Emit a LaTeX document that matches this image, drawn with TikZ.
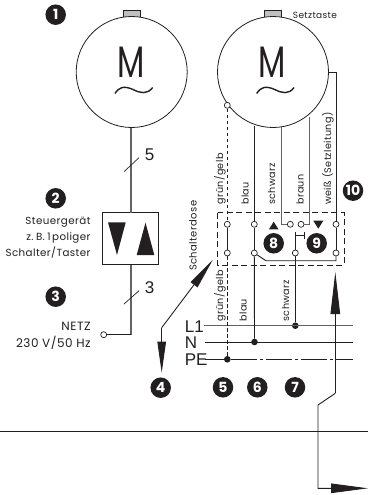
\documentclass[tikz,border=0pt]{standalone}
\usepackage{graphicx}
\usepackage{fontspec}
\setmainfont[LetterSpace=4]{Poppins}
\newfontfamily\badgef{Poppins}
\newfontfamily\arialf{Liberation Sans}
\usetikzlibrary{arrows.meta}
\definecolor{ink}{HTML}{231F20}
\tikzset{
  wire/.style={draw=ink,line width=0.9pt},
  grey wire/.style={draw=ink!70,line width=1.1pt},
  thin wire/.style={draw=ink,line width=0.7pt},
  motor/.style={circle,draw=ink,line width=0.8pt,minimum size=111pt,inner sep=0pt,fill=white},
  knob/.style={draw=ink,line width=0.7pt,fill=black!25,minimum width=17pt,minimum height=6.5pt,inner sep=0pt},
  badge/.style={circle,fill=ink,text=white,minimum size=20.5pt,inner sep=0pt,font=\badgef\fontsize{14}{14}\selectfont\bfseries},
  term/.style={circle,draw=ink,line width=0.7pt,fill=white,minimum size=6pt,inner sep=0pt},
  dotn/.style={circle,fill=ink,minimum size=6.6pt,inner sep=0pt},
  lab/.style={font=\fontsize{10.3}{12}\selectfont,text=ink,inner sep=0pt},
  netzlab/.style={font=\fontsize{12}{12}\selectfont,text=ink,inner sep=0pt},
  vlab/.style={font=\fontsize{9.6}{12}\selectfont,text=ink,inner sep=0pt,rotate=90,anchor=west},
  big/.style={font=\arialf\fontsize{17}{17}\selectfont,text=ink,inner sep=0pt},
  tri/.style={fill=ink,draw=none},
  motorm/.style={font=\badgef\fontsize{44}{44}\selectfont,text=ink,inner sep=0pt},
  sine/.style={draw=ink,line width=1.4pt},
  bigarrow/.style={-{Triangle[length=42pt,width=9.5pt]},draw=ink,line width=0.9pt},
  midarrow/.style={-{Triangle[length=31pt,width=8.5pt]},draw=ink,line width=0.9pt},
  endarrow/.style={-{Triangle[length=37pt,width=9.5pt]},draw=ink,line width=0.9pt},
}
\begin{document}
\begin{tikzpicture}[x=1pt,y=-1pt]
\useasboundingbox (0,0) rectangle (368,495);
% left motor
\node[knob] (k1) at (131.7,13.7) {};
\node[motor] (m1) at (131.7,72) {};
\node[motorm] (m1t) at (131,62.3) {\scalebox{0.72}[1]{M}};
\draw[sine] (115,93.5) .. controls (119,87) and (124,85.5) .. (133,89.5) .. controls (140,93) and (147,95) .. (152.7,87.5);
\node[badge] (b1) at (55.7,14.7) {1};
\node[draw=ink,line width=0.8pt,minimum width=56pt,minimum height=52pt,inner sep=0pt] (ctl) at (130,238.7) {};
\coordinate (j1) at (131,334.7);
\node[term] (netz) at (103.7,334.7) {};
\draw[grey wire] (131,127.5) -- (131,212.7);
\draw[grey wire] (131,264.7) -- (j1);
\draw[wire] (j1) -- (netz);
\draw[thin wire] (124,171.7) -- (139,157.7);
\draw[thin wire] (124,304) -- (139,290.7);
\node[big] (n5) at (149.5,154.5) {5};
\node[big] (n3) at (149.5,287.5) {3};
\fill[tri] (108,222.3) -- (125.7,222.3) -- (117,255) -- cycle;
\fill[tri] (136.7,255) -- (154.3,255) -- (145.5,222.7) -- cycle;
\node[badge] (b2) at (55.7,198.3) {2};
\node[badge] (b3) at (55.7,296.7) {3};
\node[lab,anchor=east] (t1) at (90.7,221.7) {Steuergerät};
\node[lab,anchor=east] (t2) at (90.7,238) {z.\hspace{2.5pt}B.\hspace{2.5pt}1\hspace{1.5pt}poliger};
\node[lab,anchor=east] (t3) at (90.7,253) {Schalter/Taster};
\node[netzlab,anchor=east] (t4) at (90.7,326) {NETZ};
\node[netzlab,anchor=east] (t5) at (90.7,342.7) {230 V/50 Hz};
% right motor
\node[knob] (k2) at (273,13.8) {};
\node[motor] (m2) at (273,72) {};
\node[motorm] (m2t) at (272.5,62.3) {\scalebox{0.72}[1]{M}};
\draw[sine] (256.7,93.5) .. controls (260.7,87) and (265.7,85.5) .. (274.7,89.5) .. controls (281.7,93) and (288.7,95) .. (294,87.5);
\node[lab,anchor=west,font=\fontsize{9}{10}\selectfont] (set) at (292.7,15) {Setztaste};
% dashed switch box
\draw[ink,line width=0.9pt,dash pattern=on 6pt off 3.5pt] (217.7,212.7) rectangle (344,265);
% terminals
\foreach \n/\x/\y in {a/227.3/224.3,b/254.3/224.3,c/290.3/224.3,d/301/224.3,e/336/224.3,f/227.3/253,g/254.3/253,h/295.3/253,i/336/253,top/227.3/105.3}
  \node[term] (\n) at (\x,\y) {};
\coordinate (L1a) at (204.3,325.7); \coordinate (L1b) at (353.3,325.7);
\coordinate (Na) at (205,342); \coordinate (Nb) at (353.3,342);
\coordinate (Pa) at (205,359.3); \coordinate (Pb) at (353.3,359.3);
\node[dotn] (dl) at (295.3,325.7) {};
\node[dotn] (dn) at (254.5,342) {};
\node[dotn] (dp) at (227.3,359.3) {};
\draw[grey wire] (L1a) -- (L1b);
\draw[wire] (Na) -- (Nb);
\draw[wire] (Pa) -- (dp);
\draw[ink,line width=0.9pt,dash pattern=on 26pt off 3pt on 3pt off 3pt] (dp) -- (Pb);
\draw[ink,line width=0.9pt,dash pattern=on 3.5pt off 2.5pt] (top) -- (a);
\draw[ink,line width=0.9pt,dash pattern=on 3.5pt off 2.5pt] (f) -- (dp);
\draw[wire] (a) -- (f);
\draw[wire] (254.3,125.5) -- (b);
\draw[wire] (b) -- (g);
\draw[wire] (g) -- (dn);
\draw[grey wire] (281.7,126.5) |- (c);
\draw[grey wire] (309.3,117) |- (d);
\draw[wire] (h) -- (dl);
\draw[wire] (e) -- (i);
\draw[wire] (328.3,72) -| (e);
\draw[wire] (g) -- (266,260.7) -| (i);
% switch symbol
\coordinate (s1) at (295.3,231.7);
\coordinate (s2) at (295.3,235.7);
\coordinate (s3) at (304,235.7);
\draw[thin wire] (h) -- (s1);
\draw[thin wire] (s2) -- (s3);
\draw[thin wire] (304,231.7) -- (304,239.3);
% triangles + badges
\fill[tri] (269,229.3) -- (278.5,229.3) -- (273.7,221.7) -- cycle;
\fill[tri] (313.3,220.7) -- (323.3,220.7) -- (318.3,228.7) -- cycle;
\node[badge] (b8) at (273.7,243.3) {8};
\node[badge] (b9) at (316.7,243.3) {9};
\node[badge] (b10) at (353,190.7) {10};
\node[badge] (b4) at (160.7,387.7) {4};
\node[badge] (b5) at (223,387.3) {5};
\node[badge] (b6) at (257.3,387.3) {6};
\node[badge] (b7) at (295,387.3) {7};
% rotated labels
\node[vlab] at (220,205) {grün/gelb};
\node[vlab] at (245,205) {blau};
\node[vlab] at (271.7,205) {schwarz};
\node[vlab] at (300,205) {braun};
\node[vlab] at (328,205) {weiß (Setzleitung)};
\node[vlab,font=\fontsize{10}{12}\selectfont] at (193,271) {Schalterdose};
\node[vlab] at (220,321.7) {grün/gelb};
\node[vlab] at (243,321.7) {blau};
\node[vlab] at (285.7,321.7) {schwarz};
\node[big,anchor=west] (l1) at (184.7,326.7) {L1};
\node[big,anchor=west] (ln) at (184.7,342.3) {N};
\node[big,anchor=west] (lp) at (184.7,359.3) {PE};
% arrows
\coordinate (a4top) at (212.7,260);
\coordinate (a4k) at (161.7,327.7);
\coordinate (a4b) at (161.7,372.7);
\draw[midarrow] (a4k) -- (a4top);
\draw[midarrow] (a4k) -- (a4b);
\coordinate (a5top) at (335.3,272);
\coordinate (a5k) at (335.3,393.3);
\coordinate (a5m) at (318,405);
\coordinate (a5c) at (318,488.3);
\coordinate (a5e) at (368,488.3);
\draw[bigarrow] (a5k) -- (a5top);
\draw[endarrow] (a5k) -- (a5m) -- (a5c) -- (a5e);
\coordinate (ha) at (0,431.7); \coordinate (hb) at (368,431.7);
\draw[wire] (ha) -- (hb);
\end{tikzpicture}
\end{document}
